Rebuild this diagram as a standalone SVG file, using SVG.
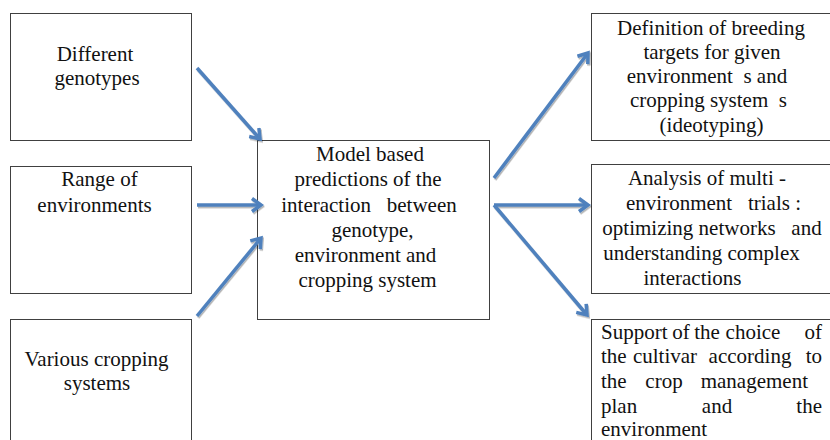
<svg xmlns="http://www.w3.org/2000/svg" width="830" height="440" viewBox="0 0 830 440">
<defs>
<style>
.box{fill:#fff;stroke:#404040;stroke-width:1}
text{font-size:21px;fill:#111}
.c{stroke:#4F81BD;stroke-width:3.5;fill:none;marker-end:url(#ah)}
.m{text-anchor:middle}
.e{text-anchor:end}
</style>
<marker id="ah" viewBox="0 0 14 16" refX="11" refY="8" markerWidth="14" markerHeight="16" markerUnits="userSpaceOnUse" orient="auto">
<path d="M2,1.5 L11,8 L2,14.5" fill="none" stroke="#4F81BD" stroke-width="3.5" stroke-linejoin="miter"/>
</marker>
<filter id="sh" x="-20%" y="-20%" width="140%" height="140%">
<feDropShadow dx="1" dy="1.5" stdDeviation="0.7" flood-color="#000" flood-opacity="0.3"/>
</filter>
</defs>
<rect width="830" height="440" fill="#fff"/>

<g font-family="'Liberation Serif', 'Times New Roman', Times, serif">
<g id="n-genotypes">
<rect class="box" x="10.5" y="13.5" width="181" height="127"/>
<text class="m" x="95" y="61">Different</text>
<text class="m" x="97" y="85">genotypes</text>
</g>

<g id="n-environments">
<rect class="box" x="10.5" y="166.5" width="181" height="127"/>
<text class="m" x="99.5" y="186">Range of</text>
<text class="m" x="94.5" y="212">environments</text>
</g>

<g id="n-cropping">
<rect class="box" x="10.5" y="319.5" width="181" height="130"/>
<text class="m" x="96.5" y="366">Various cropping</text>
<text class="m" x="97" y="390">systems</text>
</g>

<g id="n-model">
<rect class="box" x="257.5" y="140.5" width="232" height="179"/>
<text class="m" x="370" y="161">Model based</text>
<text class="m" x="368" y="186">predictions of the</text>
<text class="m" x="369" y="212" xml:space="preserve" style="white-space:pre">interaction   between</text>
<text class="m" x="372.5" y="237">genotype,</text>
<text class="m" x="365.5" y="262">environment and</text>
<text class="m" x="367.5" y="287">cropping system</text>
</g>

<g id="n-ideotyping">
<rect class="box" x="591.5" y="13.5" width="240" height="127"/>
<text class="m" x="711" y="35">Definition of breeding</text>
<text class="m" x="712" y="59">targets for given</text>
<text class="m" x="707" y="83" xml:space="preserve" style="white-space:pre">environment  s and</text>
<text class="m" x="708.5" y="107" xml:space="preserve" style="white-space:pre">cropping system  s</text>
<text class="m" x="711.5" y="132">(ideotyping)</text>
</g>

<g id="n-met">
<rect class="box" x="591.5" y="164.5" width="240" height="129"/>
<text class="m" x="707" y="185">Analysis of multi -</text>
<text class="m" x="713.5" y="210" xml:space="preserve" style="white-space:pre">environment   trials :</text>
<text class="m" x="712" y="235" xml:space="preserve" style="white-space:pre">optimizing networks   and</text>
<text class="m" x="701.5" y="260">understanding complex</text>
<text class="m" x="692.5" y="285">interactions</text>
</g>

<g id="n-cultivar">
<rect class="box" x="591.5" y="319.5" width="240" height="130"/>
<text y="339"><tspan x="601">Support</tspan><tspan class="m" x="681">of</tspan><tspan class="m" x="707">the</tspan><tspan class="m" x="753">choice</tspan><tspan class="e" x="822">of</tspan></text>
<text y="363"><tspan x="601">the</tspan><tspan class="m" x="665">cultivar</tspan><tspan class="m" x="750">according</tspan><tspan class="e" x="822">to</tspan></text>
<text y="388"><tspan x="601">the</tspan><tspan class="m" x="664">crop</tspan><tspan class="e" x="808">management</tspan></text>
<text y="413"><tspan x="601">plan</tspan><tspan class="m" x="717">and</tspan><tspan class="e" x="822">the</tspan></text>
<text x="601" y="436">environment</text>
</g>
</g>

<g id="connectors" filter="url(#sh)">
<line class="c" x1="197" y1="68" x2="260" y2="139"/>
<line class="c" x1="197" y1="205" x2="261" y2="205"/>
<line class="c" x1="197" y1="316" x2="261" y2="238"/>
<line class="c" x1="494" y1="178" x2="588" y2="53"/>
<line class="c" x1="494" y1="205" x2="588" y2="205"/>
<line class="c" x1="494" y1="205" x2="587" y2="315"/>
</g>
</svg>
